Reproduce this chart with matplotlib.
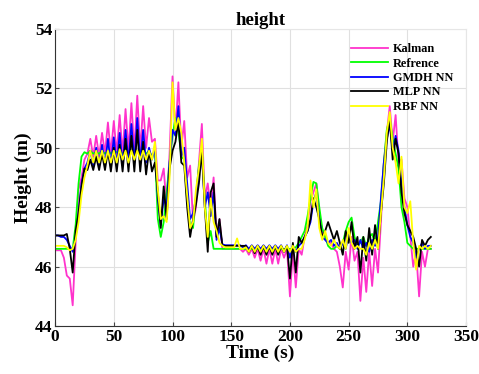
import numpy as np
import matplotlib
matplotlib.use('Agg')
import matplotlib.pyplot as plt

plt.rcParams['font.family'] = ['Liberation Serif', 'DejaVu Serif']
plt.rcParams['font.weight'] = 'bold'

# time grid, 2.5 s step
time = np.arange(0, 320.1, 2.5)

refrence = [46.6, 46.6, 46.6, 46.6, 46.6, 46.6, 46.6, 47.4, 48.8, 49.7,
            49.85, 49.8, 49.9, 49.8, 49.85, 49.8, 49.9, 49.8, 49.9, 49.8,
            49.9, 49.85, 49.9, 49.8, 49.9, 49.8, 49.9, 49.8, 49.9, 49.8,
            49.9, 49.8, 49.9, 49.7, 49.9, 47.6, 47.0, 47.5, 48.5, 49.5,
            50.4, 51.0, 50.6, 49.7, 49.6, 48.2, 47.4, 47.3, 48.4, 49.4,
            50.0, 48.3, 46.8, 47.2, 46.6, 46.6, 46.6, 46.6, 46.6, 46.6,
            46.6, 46.6, 46.6, 46.6, 46.6, 46.6, 46.6, 46.6, 46.6, 46.6,
            46.6, 46.6, 46.6, 46.6, 46.6, 46.6, 46.6, 46.6, 46.6, 46.6,
            46.6, 46.6, 46.65, 46.8, 47.0, 47.2, 47.7, 48.3, 48.85, 48.8,
            48.0, 47.3, 47.0, 46.7, 46.6, 46.6, 46.7, 46.6, 46.8, 47.2,
            47.5, 47.65, 47.0, 46.7, 46.8, 47.0, 46.7, 47.0, 47.1, 46.8,
            47.5, 48.2, 49.5, 50.6, 51.0, 50.3, 49.8, 49.3, 48.0, 47.5,
            46.8, 46.7, 46.6, 46.6, 46.6, 46.6, 46.6, 46.6, 46.6]

kalman = [46.55, 46.55, 46.55, 46.3, 45.7, 45.6, 44.7, 46.8, 48.6, 49.0,
          49.6, 49.8, 50.3, 49.7, 50.4, 49.7, 50.5, 49.8, 50.85, 49.8,
          50.9, 49.8, 51.1, 49.8, 51.3, 49.9, 51.5, 49.9, 51.75, 49.9,
          51.4, 50.0, 51.0, 50.2, 50.3, 48.9, 48.9, 49.3, 48.0, 49.8,
          52.4, 50.5, 52.2, 50.0, 50.9, 49.0, 49.4, 47.5, 48.0, 49.5,
          50.8, 48.3, 48.8, 48.0, 49.0, 47.0, 47.6, 46.6, 46.6, 46.6,
          46.6, 46.6, 46.6, 46.6, 46.5, 46.6, 46.4, 46.6, 46.3, 46.6,
          46.2, 46.6, 46.1, 46.6, 46.1, 46.6, 46.1, 46.6, 46.3, 46.6,
          45.0, 46.5, 45.3, 46.6, 46.4, 47.0, 47.4, 48.2, 48.5, 48.8,
          47.7, 47.2, 47.0, 46.8, 46.8, 46.6, 46.5, 46.0, 45.3, 46.5,
          45.9, 47.0, 46.2, 46.5, 44.85, 46.3, 45.15, 46.5, 45.35, 46.6,
          45.8, 47.5, 49.5, 50.5, 51.4, 50.2, 51.1, 49.5, 49.6, 48.3,
          48.0, 47.0, 46.0, 46.5, 45.0, 46.5, 46.0, 46.6, 46.6]

gmdh = [47.05, 47.05, 47.0, 47.0, 46.9, 46.7, 46.5, 47.0, 47.8, 48.8,
        49.3, 49.5, 49.9, 49.4, 50.0, 49.4, 50.1, 49.4, 50.3, 49.4,
        50.35, 49.4, 50.5, 49.4, 50.6, 49.5, 50.8, 49.5, 51.0, 49.5,
        50.6, 49.5, 50.0, 49.6, 50.0, 48.3, 47.4, 48.3, 48.0, 49.5,
        50.6, 50.4, 51.4, 49.7, 50.0, 48.8, 47.6, 47.8, 48.3, 49.3,
        49.8, 48.0, 48.5, 47.7, 48.5, 46.9, 47.3, 46.75, 46.72, 46.72,
        46.72, 46.72, 46.72, 46.72, 46.65, 46.72, 46.6, 46.72, 46.6, 46.72,
        46.6, 46.72, 46.6, 46.72, 46.6, 46.72, 46.6, 46.72, 46.5, 46.72,
        46.3, 46.7, 46.5, 46.7, 46.8, 47.0, 47.2, 47.5, 48.2, 48.5,
        47.6, 47.0, 46.9, 46.8, 46.9, 46.7, 46.8, 46.6, 46.8, 46.6,
        47.1, 46.8, 46.9, 46.6, 46.9, 46.6, 46.8, 46.5, 46.9, 46.7,
        47.0, 48.3, 49.5, 50.3, 50.8, 49.9, 50.4, 49.9, 48.8, 48.0,
        47.4, 47.0, 46.8, 46.3, 46.6, 46.8, 46.6, 46.7, 46.7]

mlp = [47.05, 47.05, 47.05, 47.05, 47.1, 46.6, 45.8, 47.2, 47.8, 48.7,
       49.3, 49.25, 49.6, 49.25, 49.7, 49.25, 49.8, 49.25, 49.9, 49.2,
       50.0, 49.2, 50.1, 49.2, 50.3, 49.2, 50.4, 49.2, 50.6, 49.2,
       50.2, 49.1, 49.9, 49.2, 49.5, 48.5, 47.3, 48.7, 47.6, 49.3,
       49.9, 50.2, 50.9, 49.5, 49.4, 48.0, 47.0, 47.6, 48.1, 48.8,
       49.9, 48.0, 46.5, 48.5, 48.8, 47.0, 47.6, 46.7, 46.7, 46.7,
       46.7, 46.7, 46.7, 46.7, 46.7, 46.7, 46.5, 46.7, 46.45, 46.7,
       46.4, 46.7, 46.4, 46.7, 46.4, 46.7, 46.4, 46.7, 46.5, 46.7,
       45.6, 46.8, 45.8, 47.0, 46.8, 47.0, 47.2, 47.6, 48.3, 48.0,
       47.6, 47.0, 47.2, 47.5, 47.2, 46.9, 47.2, 46.8, 46.4, 47.2,
       46.8, 47.5, 46.6, 47.0, 45.8, 47.0, 46.2, 47.3, 46.4, 47.4,
       46.6, 47.8, 48.8, 50.2, 51.0, 49.6, 50.3, 49.8, 48.5, 47.8,
       47.4, 47.2, 47.0, 46.6, 46.0, 46.9, 46.7, 46.9, 47.0]

rbf = [46.7, 46.7, 46.7, 46.7, 46.65, 46.55, 46.6, 46.9, 47.5, 48.4,
       49.0, 49.4, 49.9, 49.5, 49.9, 49.5, 49.9, 49.5, 49.9, 49.5,
       49.9, 49.5, 49.95, 49.6, 49.9, 49.5, 49.9, 49.6, 49.9, 49.6,
       49.9, 49.6, 49.9, 49.6, 50.2, 48.6, 47.6, 47.7, 47.5, 49.0,
       52.2, 50.6, 51.0, 50.5, 49.5, 48.4, 47.3, 47.5, 48.6, 49.3,
       50.3, 48.0, 47.0, 48.3, 47.5, 47.2, 46.8, 46.7, 46.65, 46.65,
       46.65, 46.65, 46.95, 46.6, 46.6, 46.65, 46.5, 46.7, 46.5, 46.7,
       46.5, 46.7, 46.5, 46.7, 46.5, 46.7, 46.5, 46.7, 46.5, 46.7,
       46.5, 46.7, 46.5, 46.6, 46.6, 46.9, 47.3, 48.9, 48.0, 48.6,
       47.3, 46.9, 47.2, 46.8, 46.7, 46.9, 46.7, 46.6, 46.9, 46.6,
       47.3, 46.8, 46.6, 46.7, 46.6, 46.6, 46.4, 46.8, 46.6, 46.9,
       46.6, 47.8, 49.0, 50.5, 51.2, 50.0, 49.5, 48.8, 49.7, 48.0,
       47.8, 48.2, 46.8, 45.9, 46.7, 46.6, 46.7, 46.6, 46.7]

series = [('Kalman', kalman, '#ff33cc'),
          ('Refrence', refrence, '#00ff00'),
          ('GMDH NN', gmdh, '#0000ff'),
          ('MLP NN', mlp, '#000000'),
          ('RBF NN', rbf, '#ffff00')]

fig = plt.figure(figsize=(4.79, 3.74), dpi=100)
ax = fig.add_axes([0.115, 0.128, 0.858, 0.795])

for name, vals, col in series:
    ax.plot(time, vals, color=col, lw=1.3, label=name)

ax.set_xlim(0, 350)
ax.set_ylim(44, 54)
ax.set_xticks(range(0, 351, 50))
ax.set_yticks(range(44, 55, 2))
ax.grid(True, color='#e0e0e0', lw=0.8)
ax.set_axisbelow(True)
ax.tick_params(direction='in', labelsize=12.5, length=3, width=0.8,
               color='#444444', pad=2)
for s in ['top', 'right']:
    ax.spines[s].set_color('#e6e6e6')
for s in ['left', 'bottom']:
    ax.spines[s].set_color('#333333')

ax.set_title('height', fontsize=13.5, fontweight='bold', pad=3)
ax.set_xlabel('Time (s)', fontsize=14, fontweight='bold', labelpad=0)
ax.set_ylabel('Height (m)', fontsize=14, fontweight='bold', labelpad=2)

ax.legend(loc='upper left', bbox_to_anchor=(0.72, 0.952), frameon=False,
          fontsize=8.8, handlelength=3.0, labelspacing=0.2, borderpad=0,
          borderaxespad=0, handletextpad=0.4)

fig.savefig('out.png', dpi=100)
